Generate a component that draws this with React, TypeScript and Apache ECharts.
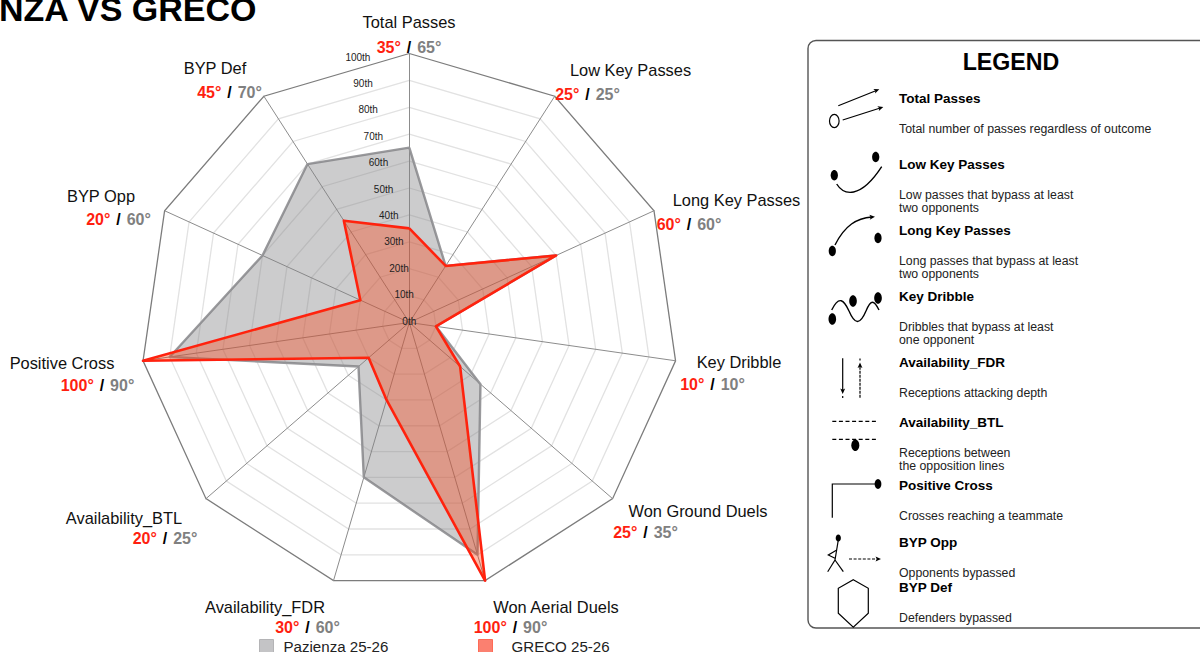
import React, { useEffect, useRef } from "react";
import * as echarts from "echarts";

const chartTitle = "PAZIENZA VS GRECO";
const indicatorNames = [
  "Total Passes", "Low Key Passes", "Long Key Passes", "Key Dribble", "Won Ground Duels",
  "Won Aerial Duels", "Availability_FDR", "Availability_BTL", "Positive Cross", "BYP Opp", "BYP Def",
];
const pazienzaName = "Pazienza 25-26";
const grecoName = "GRECO 25-26";
const pazienzaValues = [65, 25, 60, 10, 35, 90, 60, 25, 90, 60, 70];
const grecoValues = [35, 25, 60, 10, 25, 100, 30, 20, 100, 20, 45];
const tickValues = [0, 10, 20, 30, 40, 50, 60, 70, 80, 90, 100];
const legendTitles = [
  "Total Passes", "Low Key Passes", "Long Key Passes", "Key Dribble", "Availability_FDR",
  "Availability_BTL", "Positive Cross", "BYP Opp", "BYP Def",
];
const legendDescriptions = [
  "Total number of passes regardless of outcome",
  "Low passes that bypass at least\ntwo opponents",
  "Long passes that bypass at least\ntwo opponents",
  "Dribbles that bypass at least\none opponent",
  "Receptions attacking depth",
  "Receptions between\nthe opposition lines",
  "Crosses reaching a teammate",
  "Opponents bypassed",
  "Defenders bypassed",
];

// layout, kept apart from the data
const CX = 409.3;
const CY = 322.5;
const R = 269;
const FONT = '"Liberation Sans", Arial, sans-serif';
const RED = "#ff1f10";
const GREY = "#808080";
const nameCentres = [
  [409, 22], [630.5, 70], [736.5, 200], [739, 362], [698, 511], [556, 607],
  [265, 607], [124, 518], [62, 363], [101, 196], [215, 68],
];
const valueCentres = [
  [409, 47], [587.5, 94], [689, 224], [712.5, 384], [645.5, 532], [510.5, 627],
  [307.5, 627], [165, 538], [97.5, 385], [118.5, 219], [229.5, 92],
];
const legendTitleY = [99, 165, 231, 297, 363, 423, 486, 543, 588];
const legendDescY = [129, 195, 261, 327, 393, 453, 516, 573, 618];

// ECharts walks a radar's indicators anticlockwise; the reference reads clockwise from the top.
function clockwise<T>(items: T[]): T[] {
  return [items[0], ...items.slice(1).reverse()];
}

const ink = { stroke: "#000", fill: "none", lineWidth: 1.2 };
const solid = { fill: "#000", stroke: "none" };

function dot(cx: number, cy: number, rx = 3.6, ry = 5.2) {
  return { type: "ellipse", shape: { cx, cy, rx, ry }, style: solid, z: 5 };
}
function seg(x1: number, y1: number, x2: number, y2: number, extra: object = {}) {
  return { type: "line", shape: { x1, y1, x2, y2 }, style: { ...ink, ...extra }, z: 5 };
}
function bez(x1: number, y1: number, cpx1: number, cpy1: number, cpx2: number, cpy2: number, x2: number, y2: number) {
  return {
    type: "bezierCurve",
    shape: { x1, y1, cpx1, cpy1, cpx2, cpy2, x2, y2 },
    style: { ...ink, lineWidth: 1.4 },
    z: 5,
  };
}
function head(x: number, y: number, fromX: number, fromY: number, size = 6) {
  const a = Math.atan2(y - fromY, x - fromX);
  const p = (d: number) => [x - size * Math.cos(a + d), y - size * Math.sin(a + d)];
  return {
    type: "polygon",
    shape: { points: [[x, y], p(0.42), [x - size * 0.7 * Math.cos(a), y - size * 0.7 * Math.sin(a)], p(-0.42)] },
    style: solid,
    z: 5,
  };
}

function legendIcons() {
  return [
    // total passes
    seg(838.3, 105.7, 877, 90.2), head(879.3, 89.3, 838.3, 105.7),
    seg(842.7, 120, 881, 107.7), head(883.3, 107, 842.7, 120),
    { type: "ellipse", shape: { cx: 834.3, cy: 121, rx: 4.8, ry: 6.6 }, style: ink, z: 5 },
    // low key passes
    dot(875.7, 157), dot(834.3, 175.3),
    bez(836.7, 184, 843.5, 195, 860, 200, 881.7, 166.7),
    // long key passes
    dot(832.3, 251), dot(878, 238),
    bez(835, 245, 845, 225, 856.7, 218.3, 872, 217), head(875, 216.8, 856.7, 218.3),
    // key dribble
    dot(832.3, 319, 3.8, 5.8), dot(853, 301, 3.8, 5.8), dot(878, 298, 3.8, 5.8),
    bez(831.7, 310, 839, 295, 844, 300, 849, 311),
    bez(849, 311, 855, 325, 860, 325, 866, 311),
    bez(866, 311, 871, 299, 874, 300, 879, 310),
    // availability FDR
    seg(842.7, 358.3, 842.7, 390), head(842.7, 394, 842.7, 358.3),
    seg(842.7, 396, 842.7, 398),
    seg(860, 397.7, 860, 366, { lineDash: [3, 1] }), head(860, 362.5, 860, 397.7),
    seg(860, 358.5, 860, 360.5),
    // availability BTL
    seg(832.3, 421.3, 878.3, 421.3, { lineDash: [4, 2.6] }),
    seg(832.3, 439.3, 878.3, 439.3, { lineDash: [4, 2.6] }),
    dot(855.3, 445.3, 4, 5.8),
    // positive cross
    { type: "polyline", shape: { points: [[832.3, 517.7], [832.3, 484], [876.7, 484]] }, style: ink, z: 5 },
    dot(878, 484, 3.4, 5),
    // BYP opp
    dot(838.3, 538, 2.6, 3.6),
    seg(838.3, 540, 835, 560),
    { type: "polyline", shape: { points: [[836.8, 550], [828.3, 555], [835, 558.3]] }, style: ink, z: 5 },
    seg(835, 560, 827.7, 571.7), seg(835, 560, 843.3, 571.7),
    seg(849, 559, 878, 559, { lineDash: [3, 1.6] }), head(881, 559, 849, 559),
    // BYP def
    {
      type: "polygon",
      shape: { points: [[853.3, 579.7], [868.3, 588.3], [868.3, 613.3], [853.3, 627.3], [838.3, 613.3], [838.3, 588.3]] },
      style: ink,
      z: 5,
    },
  ];
}

function textEl(text: string, x: number, y: number, fontSize: number, opts: any = {}) {
  return {
    type: "text",
    x,
    y,
    z: 20,
    style: {
      text,
      fontSize,
      fontFamily: FONT,
      fill: "#000",
      textAlign: "center",
      textVerticalAlign: "middle",
      ...opts,
    },
  };
}

function buildGraphics() {
  const els: any[] = [];
  els.push(textEl(chartTitle, 256.5, 8.5, 34, { fontWeight: "bold", textAlign: "right" }));
  indicatorNames.forEach((name, i) => {
    els.push(textEl(name, nameCentres[i][0], nameCentres[i][1], 16.4, { fill: "#111" }));
    els.push({
      type: "text",
      x: valueCentres[i][0],
      y: valueCentres[i][1],
      z: 20,
      style: {
        text: `{a|${grecoValues[i]}°} {s|/} {b|${pazienzaValues[i]}°}`,
        textAlign: "center",
        textVerticalAlign: "middle",
        fontFamily: FONT,
        fontSize: 16,
        fontWeight: "bold",
        rich: {
          a: { fill: RED, fontSize: 16, fontWeight: "bold", fontFamily: FONT },
          s: { fill: "#000", fontSize: 16, fontWeight: "bold", fontFamily: FONT, padding: [0, 1.5, 0, 1.5] },
          b: { fill: GREY, fontSize: 16, fontWeight: "bold", fontFamily: FONT },
        },
      },
    });
  });
  tickValues.forEach((v) => {
    els.push(textEl(`${v}th`, CX - v * 0.514, 321 - v * 2.64, 10, { fill: "#222" }));
  });
  els.push({
    type: "rect",
    z: 1,
    shape: { x: 808, y: 40.5, width: 440, height: 587.5, r: 8 },
    style: { fill: "#fff", stroke: "#555", lineWidth: 1.4 },
  });
  els.push(textEl("LEGEND", 1011, 62, 23.2, { fontWeight: "bold" }));
  legendTitles.forEach((t, i) => {
    els.push(textEl(t, 899, legendTitleY[i] - 0.5, 13.5, { fontWeight: "bold", textAlign: "left" }));
    const lines = legendDescriptions[i].split("\n");
    lines.forEach((line, j) => {
      els.push(textEl(line, 899, legendDescY[i] + j * 13, 12.3, { fill: "#222", textAlign: "left" }));
    });
  });
  return [...els, ...legendIcons()];
}

export default function App() {
  const ref = useRef<HTMLDivElement>(null);
  useEffect(() => {
    document.body.style.margin = "0";
    const chart = echarts.init(ref.current!, null, { renderer: "svg" });
    const legendBase = {
      orient: "horizontal",
      top: 638.5,
      itemWidth: 14,
      itemHeight: 13,
      icon: "rect",
      selectedMode: false,
      padding: 0,
    };
    chart.setOption({
      animation: false,
      backgroundColor: "#fff",
      legend: [
        {
          ...legendBase,
          left: 259,
          data: [{ name: pazienzaName, itemStyle: { color: "#c4c4c6", borderColor: "#b4b4b6", borderWidth: 1 } }],
          textStyle: { fontSize: 15.1, lineHeight: 12, fontFamily: FONT, color: "#222", padding: [0, 0, 0, 5] },
        },
        {
          ...legendBase,
          left: 478,
          data: [{ name: grecoName, itemStyle: { color: "#fb8070", borderColor: "#ff6a55", borderWidth: 1 } }],
          textStyle: { fontSize: 15.1, lineHeight: 12, fontFamily: FONT, color: "#222", padding: [0, 0, 0, 14] },
        },
      ],
      radar: {
        center: [CX, CY],
        radius: R,
        startAngle: 90,
        splitNumber: 10,
        shape: "polygon",
        indicator: clockwise(indicatorNames).map((name) => ({ name, min: 0, max: 100 })),
        axisName: { show: false },
        axisLabel: { show: false },
        axisTick: { show: false },
        axisLine: { show: true, lineStyle: { color: "#8c8c8c", width: 1 } },
        splitArea: { show: false },
        splitLine: {
          show: true,
          lineStyle: {
            color: [...Array(10).fill("#e2e2e2"), "#7c7c7c"],
            width: 1.3,
          },
        },
      },
      series: [
        {
          type: "radar",
          name: pazienzaName,
          symbol: "none",
          lineStyle: { color: "#9a9a9d", width: 2.4 },
          itemStyle: { color: "#9a9a9d" },
          areaStyle: { color: "rgba(130,130,134,0.41)", opacity: 1 },
          data: [{ name: pazienzaName, value: clockwise(pazienzaValues) }],
        },
        {
          type: "radar",
          name: grecoName,
          symbol: "none",
          lineStyle: { color: RED, width: 2.6 },
          itemStyle: { color: RED },
          areaStyle: { color: "rgba(255,55,5,0.34)", opacity: 1 },
          data: [{ name: grecoName, value: clockwise(grecoValues) }],
        },
      ],
      graphic: buildGraphics(),
    });
    return () => chart.dispose();
  }, []);
  return <div ref={ref} style={{ width: 1200, height: 652 }} />;
}
